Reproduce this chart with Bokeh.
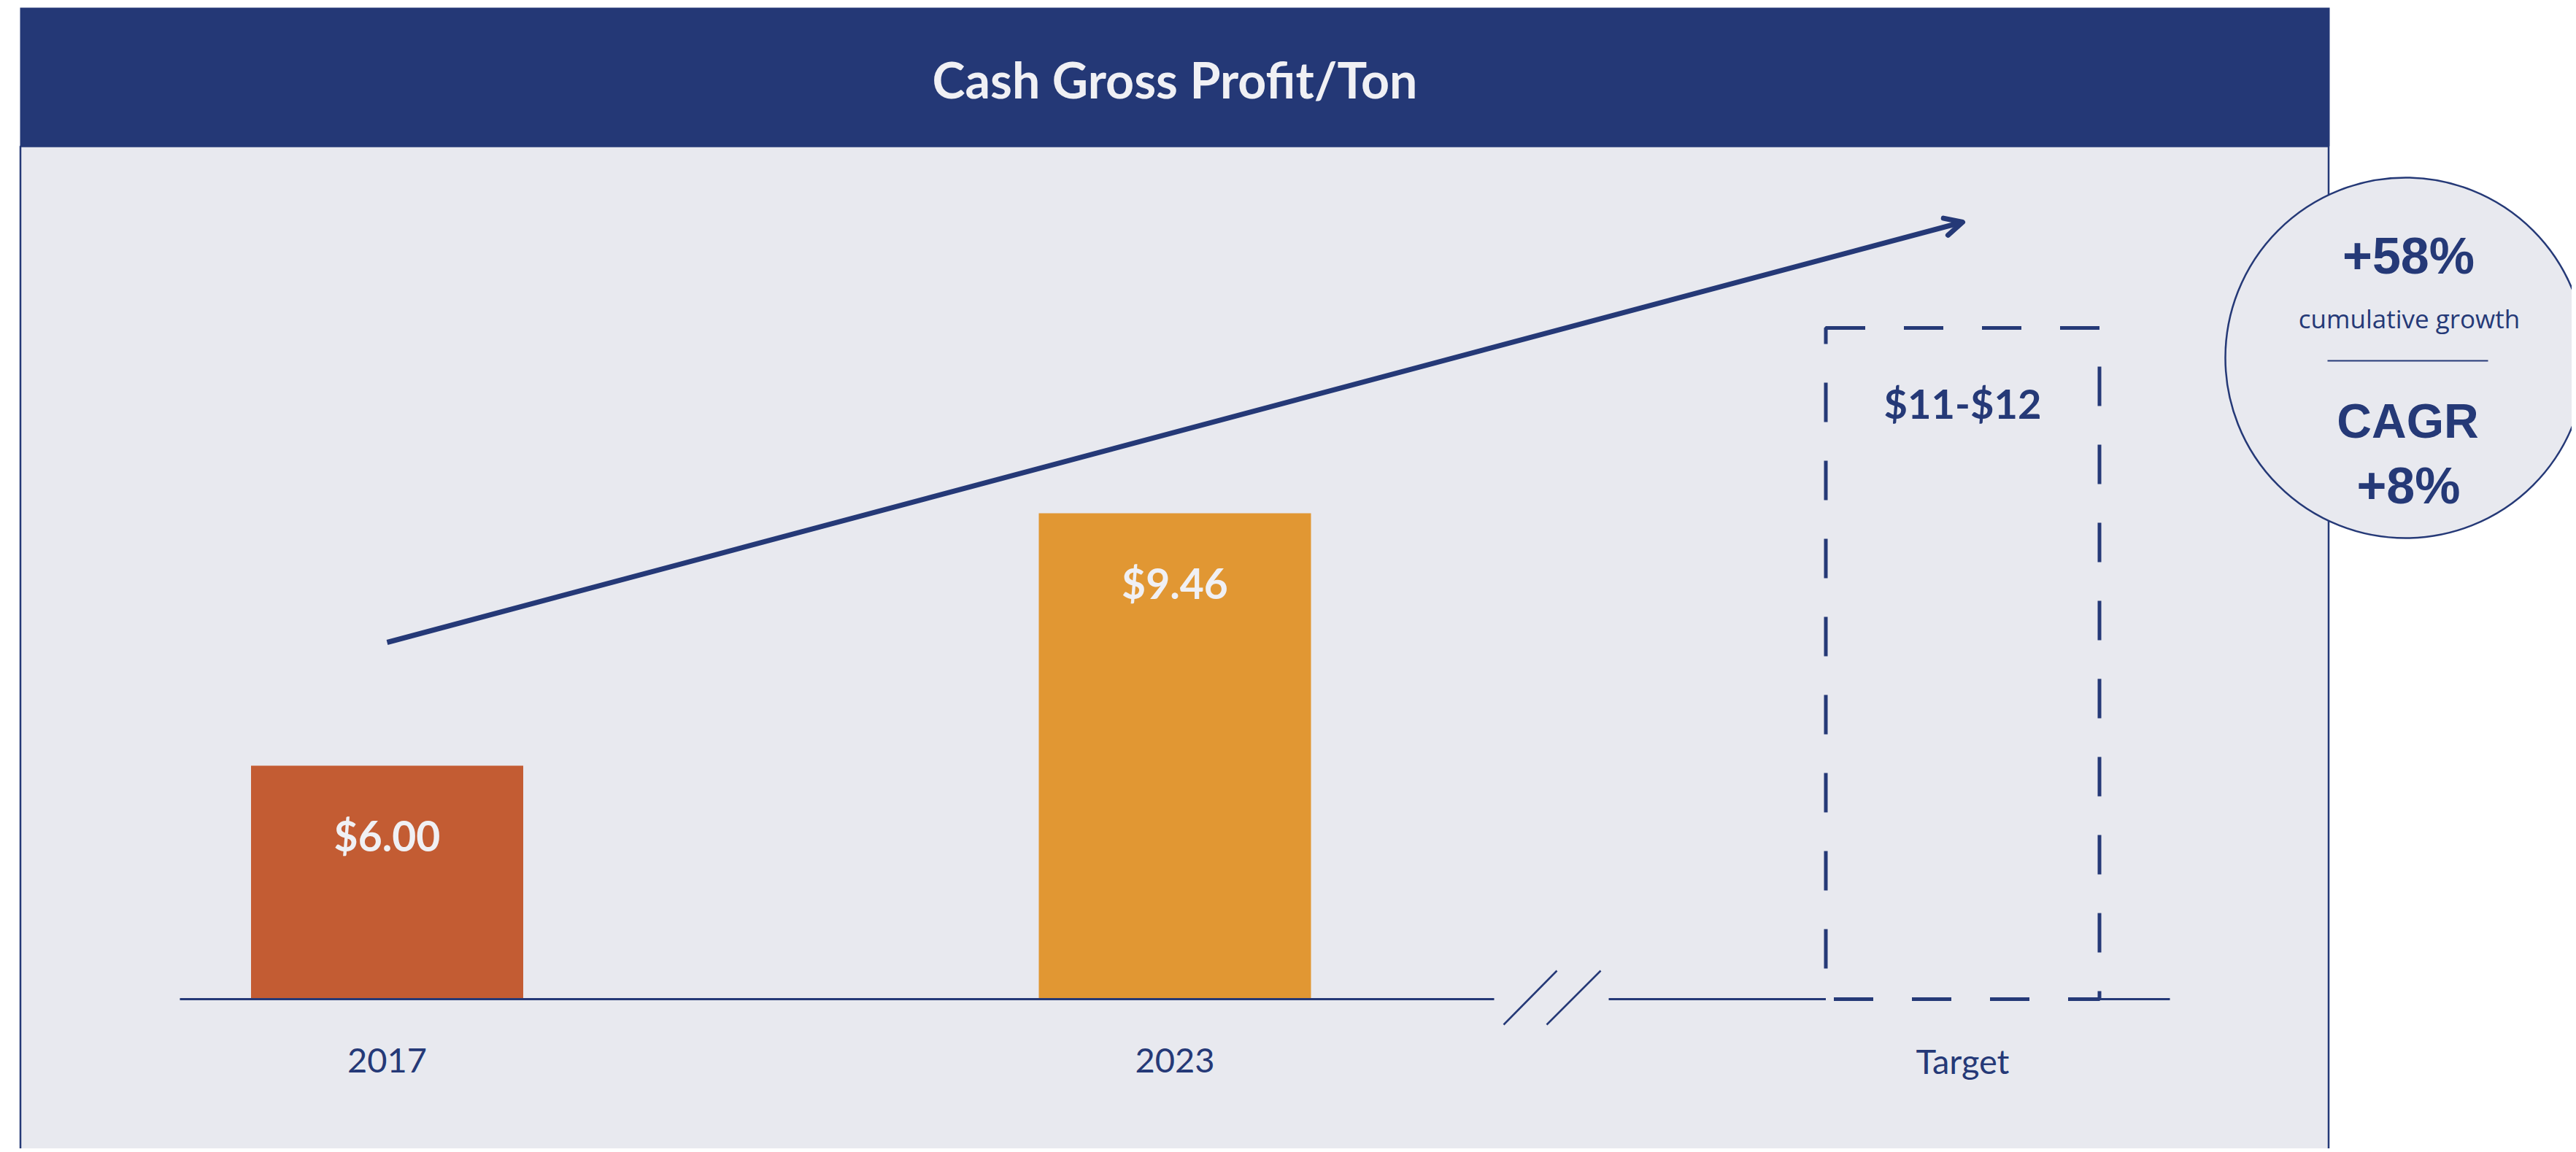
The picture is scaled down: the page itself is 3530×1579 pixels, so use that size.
from bokeh.plotting import figure
from bokeh.models import Range1d, Arrow, OpenHead
from bokeh.core.properties import value
from bokeh.embed import file_html
from bokeh.resources import INLINE

# ---------------- data ----------------
categories = ["2017", "2023", "Target"]
values = [6.00, 9.46]
value_labels = ["$6.00", "$9.46"]
bar_colors = ["#C35C33", "#E19733"]
target_low = 11
target_high = 12
target_label = "$11-$12"
title_text = "Cash Gross Profit/Ton"
growth_pct = "+58%"
growth_text = "cumulative growth"
cagr_title = "CAGR"
cagr_pct = "+8%"

# ---------------- styling / layout ----------------
NAVY = "#253977"
BAND = "#243876"
PANEL = "#E8E9EF"
LIGHT = "#F0F0F4"
FONT = value("Lato")

W, H, M = 3524, 1574, 0
BASE = 2.8            # truncated axis start (value at the baseline)
PX_X1 = 530.0         # page px of category 1
UX = 1079.5           # px per category step
PY_BASE = 1369.0      # page px of the baseline
UY = 100.0            # px per value unit


def X(px):
    return 1 + (px - PX_X1) / UX


def Y(py):
    return BASE + (PY_BASE - py) / UY


BAR_W = 373 / UX
BOX_W = 375 / UX
xs = [i + 1 for i in range(len(categories))]

p = figure(width=W, height=H, output_backend="svg", toolbar_location=None,
           x_range=Range1d(X(M), X(M + W)), y_range=Range1d(Y(M + H), Y(M)),
           x_axis_location=None, y_axis_location=None, min_border=0,
           outline_line_color=None, background_fill_color="white",
           border_fill_color="white")
p.grid.visible = False

# panel + title band
p.quad(left=[X(27.5)], right=[X(3190.5)], top=[Y(200)], bottom=[Y(1620)],
       fill_color=PANEL, line_color=NAVY, line_width=2.5)
p.quad(left=[X(27)], right=[X(3192)], top=[Y(10)], bottom=[Y(200)],
       fill_color=BAND, line_color=None)
p.text(x=[X(1609.5)], y=[Y(108)], text=[title_text], text_font=FONT,
       text_font_size="68px", text_font_style="bold", text_color=LIGHT,
       text_align="center", text_baseline="middle")

# bars
p.vbar(x=xs[:2], top=values, bottom=BASE, width=BAR_W, fill_color=bar_colors,
       line_color=None)
p.text(x=xs[:2], y=[v - 0.95 for v in values], text=value_labels, text_font=FONT,
       text_font_size="57px", text_font_style="bold", text_color=LIGHT,
       text_align="center", text_baseline="middle")

# target dashed box
tx = xs[2]
p.quad(left=[tx - BOX_W / 2], right=[tx + BOX_W / 2], bottom=[BASE], top=[target_high],
       fill_color=None, line_color=NAVY, line_width=5, line_dash="54 53")
p.text(x=[tx], y=[target_high - 1.03], text=[target_label], text_font=FONT,
       text_font_size="56px", text_font_style="bold", text_color=NAVY,
       text_align="center", text_baseline="middle")

# baseline with break
p.segment(x0=[X(246), X(2204), tx + BOX_W / 2], y0=[BASE] * 3,
          x1=[X(2047), tx - BOX_W / 2, X(2973)], y1=[BASE] * 3,
          line_color=NAVY, line_width=3)
p.segment(x0=[X(2060), X(2119)], y0=[Y(1404)] * 2, x1=[X(2133), X(2193)], y1=[Y(1330)] * 2,
          line_color=NAVY, line_width=2.5)

# category labels
p.text(x=xs, y=[BASE - 0.84] * 3, text=categories, text_font=FONT,
       text_font_size="47px", text_color=NAVY, text_align="center",
       text_baseline="middle")

# growth arrow
p.add_layout(Arrow(end=OpenHead(size=24, line_width=7, line_color=NAVY,
                                line_cap="round", line_join="round"),
                   x_start=xs[0], y_start=7.69, x_end=xs[2], y_end=13.45,
                   line_width=7, line_color=NAVY))

# circle callout
p.ellipse(x=[X(3296)], y=[Y(490)], width=[494 / UX], height=[494 / UY],
          fill_color=PANEL, line_color=NAVY, line_width=2.5)
p.text(x=[X(3300)], y=[Y(350)], text=[growth_pct], text_font=value("Liberation Sans"),
       text_font_size="70px", text_font_style="bold", text_color=NAVY,
       text_align="center", text_baseline="middle")
p.text(x=[X(3301)], y=[Y(436)], text=[growth_text], text_font=value("Open Sans"),
       text_font_size="35px", text_color=NAVY, text_align="center",
       text_baseline="middle")
p.segment(x0=[X(3189)], y0=[Y(494)], x1=[X(3409)], y1=[Y(494)],
          line_color=NAVY, line_width=2)
p.text(x=[X(3299)], y=[Y(576)], text=[cagr_title], text_font=value("Liberation Sans"),
       text_font_size="66px", text_font_style="bold", text_color=NAVY,
       text_align="center", text_baseline="middle")
p.text(x=[X(3300)], y=[Y(665)], text=[cagr_pct], text_font=value("Liberation Sans"),
       text_font_size="70px", text_font_style="bold", text_color=NAVY,
       text_align="center", text_baseline="middle")

open("out.html", "w").write(file_html(p, INLINE))
